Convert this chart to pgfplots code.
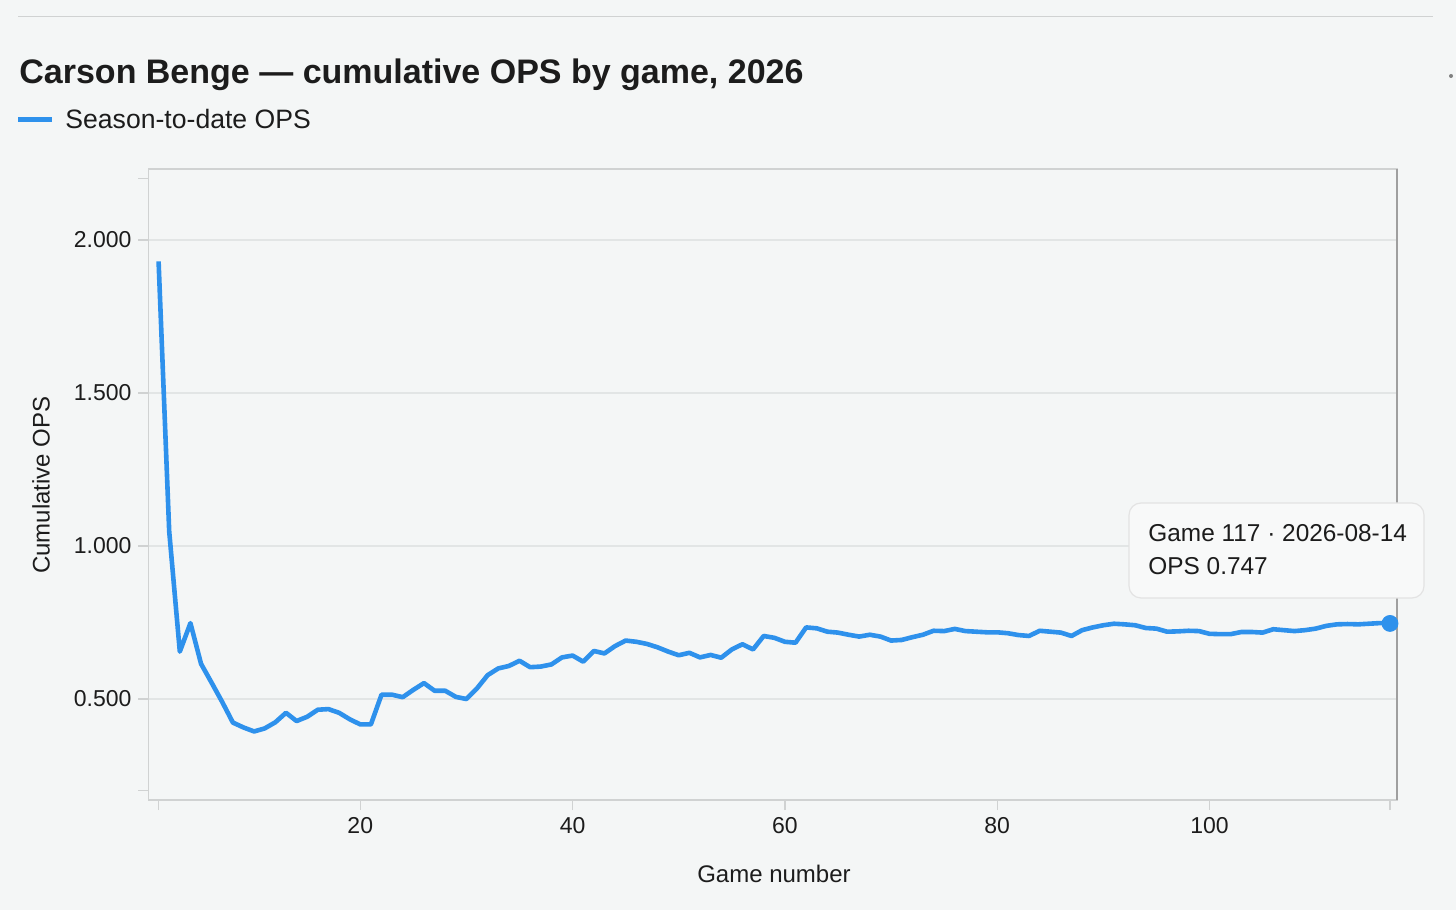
\documentclass[border=0pt]{standalone}
\usepackage{pgfplots}
\usepackage{pgfplotstable}
\pgfplotsset{compat=1.18}
\usepackage{fontspec}
\setmainfont{Liberation Sans}
\definecolor{bg}{RGB}{244,246,246}
\definecolor{ops}{RGB}{46,145,236}
\definecolor{gridc}{RGB}{226,229,229}
\definecolor{framec}{RGB}{208,210,210}
\definecolor{txt}{RGB}{28,28,28}

\pgfplotstableread{
game ops
1 1.930
2 1.048
3 0.655
4 0.748
5 0.615
6 0.553
7 0.490
8 0.423
9 0.407
10 0.394
11 0.404
12 0.424
13 0.455
14 0.428
15 0.442
16 0.465
17 0.467
18 0.455
19 0.434
20 0.417
21 0.417
22 0.514
23 0.514
24 0.506
25 0.530
26 0.552
27 0.527
28 0.527
29 0.507
30 0.500
31 0.535
32 0.578
33 0.600
34 0.608
35 0.625
36 0.604
37 0.606
38 0.613
39 0.636
40 0.642
41 0.622
42 0.657
43 0.649
44 0.673
45 0.691
46 0.687
47 0.680
48 0.669
49 0.655
50 0.643
51 0.651
52 0.636
53 0.644
54 0.635
55 0.662
56 0.679
57 0.662
58 0.706
59 0.700
60 0.687
61 0.684
62 0.734
63 0.731
64 0.720
65 0.717
66 0.710
67 0.704
68 0.710
69 0.704
70 0.691
71 0.693
72 0.702
73 0.710
74 0.723
75 0.722
76 0.729
77 0.722
78 0.720
79 0.718
80 0.718
81 0.715
82 0.709
83 0.706
84 0.723
85 0.720
86 0.717
87 0.706
88 0.725
89 0.734
90 0.741
91 0.746
92 0.744
93 0.741
94 0.732
95 0.730
96 0.720
97 0.721
98 0.723
99 0.722
100 0.713
101 0.712
102 0.712
103 0.719
104 0.719
105 0.717
106 0.728
107 0.725
108 0.722
109 0.725
110 0.730
111 0.739
112 0.744
113 0.745
114 0.744
115 0.746
116 0.748
117 0.747
}\opsdata

\begin{document}
\begin{tikzpicture}
\path[use as bounding box, fill=bg] (0pt,0pt) rectangle (728pt,455pt);
\draw[framec, line width=0.5pt] (9pt,446.5pt) -- (716.5pt,446.5pt);
\fill[gray] (725.5pt,417pt) circle (1pt);
\node[anchor=base west, font=\fontsize{17}{20}\selectfont\bfseries, text=txt, inner sep=0pt] at (9.5pt,413.3pt) {Carson Benge — cumulative OPS by game, 2026};
\draw[ops, line width=2.5pt] (9pt,395pt) -- (26pt,395pt);
\node[anchor=base west, font=\fontsize{13.3}{16}\selectfont, text=txt, inner sep=0pt] at (32.5pt,390.5pt) {Season-to-date OPS};
\begin{axis}[
  at={(74.25pt,55pt)}, anchor=south west,
  scale only axis, width=624.25pt, height=315.5pt,
  xmin=0.05, xmax=117.66, ymin=0.170, ymax=2.232,
  axis line style={framec, line width=0.6pt},
  tick style={framec, line width=0.6pt},
  tick align=outside, major tick length=5pt,
  xtick pos=left, ytick pos=left,
  xtick={20,40,60,80,100}, xticklabels={20,40,60,80,100},
  ytick={0.5,1,1.5,2}, yticklabels={0.500,1.000,1.500,2.000},
  extra x ticks={1,117}, extra x tick labels={},
  extra x tick style={grid=none},
  extra y ticks={0.2,2.2}, extra y tick labels={},
  extra y tick style={grid=none},
  ymajorgrids, grid style={gridc, line width=0.6pt},
  tick label style={font=\fontsize{11.5}{14}\selectfont, text=txt},
  clip=false,
]
\addplot[ops, line width=2.3pt, line join=round, mark=none] table[x=game,y=ops]{\opsdata};
\addplot[ops, only marks, mark=*, mark size=4pt] coordinates {(117,0.747)};
\draw[gray!75, line width=1pt] (rel axis cs:1,0) -- (rel axis cs:1,1);
\end{axis}
\draw[draw=gray!22, fill=bg!65!white, rounded corners=6pt, line width=0.6pt] (564.5pt,156pt) rectangle (712pt,203.5pt);
\node[anchor=base west, font=\fontsize{12.2}{14}\selectfont, text=txt, inner sep=0pt] at (574pt,184pt) {Game 117 · 2026-08-14};
\node[anchor=base west, font=\fontsize{12.2}{14}\selectfont, text=txt, inner sep=0pt] at (574pt,167.5pt) {OPS 0.747};
\node[anchor=base, font=\fontsize{12}{14}\selectfont, text=txt, inner sep=0pt] at (387pt,13.5pt) {Game number};
\node[rotate=90, anchor=center, font=\fontsize{12}{14}\selectfont, text=txt, inner sep=0pt] at (20.5pt,212.5pt) {Cumulative OPS};
\end{tikzpicture}
\end{document}
